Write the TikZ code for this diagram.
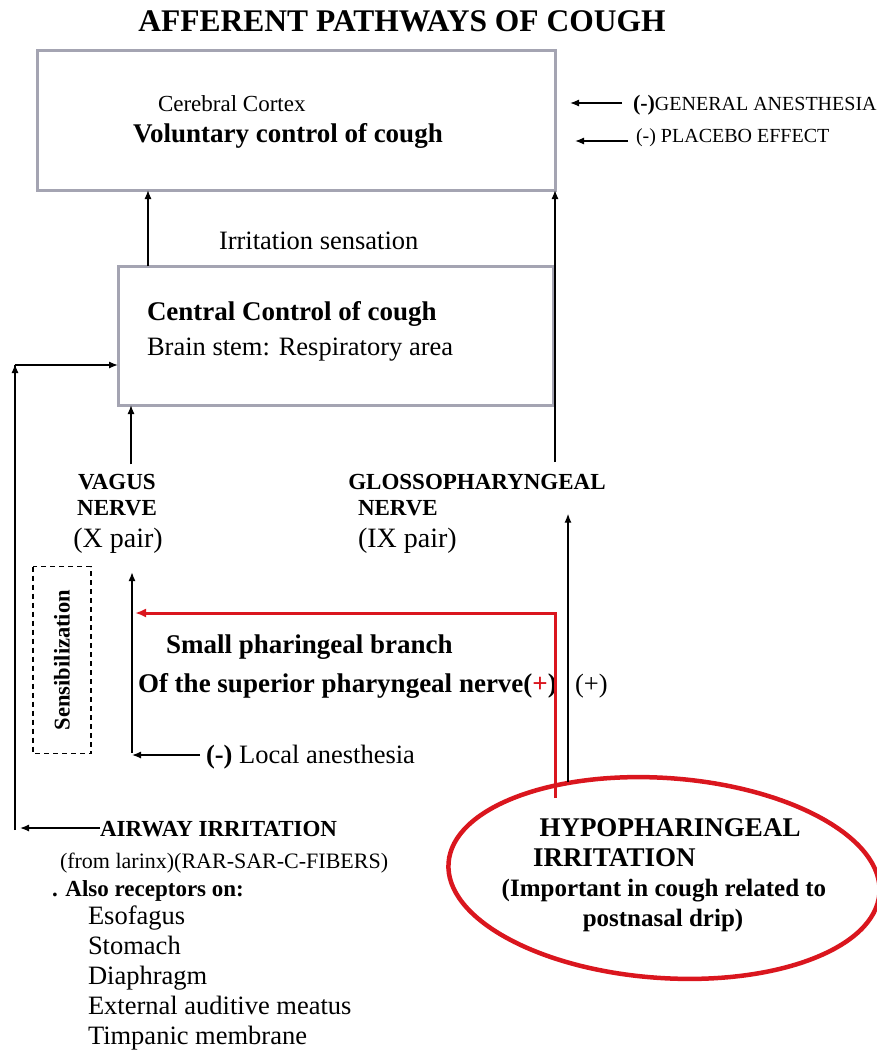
\documentclass[tikz,border=0pt]{standalone}
\usepackage{fontspec}
\setmainfont{Liberation Serif}
\usetikzlibrary{positioning,arrows.meta,shapes.geometric}
\definecolor{cougred}{RGB}{218,22,30}
\definecolor{framegray}{RGB}{164,164,178}
\tikzset{every node/.style={inner sep=0pt, outer sep=0pt, text height=.72em, text depth=.22em}}
\tikzset{frame/.style={draw=framegray, line width=3pt, fill=white, anchor=north west, text height=, text depth=}}
\tikzset{txt/.style={font=\fontsize{26.5}{30}\selectfont, anchor=west, yshift=-6pt}}
\tikzset{txtb/.style={font=\fontsize{27}{30}\selectfont\bfseries, anchor=west, yshift=-6pt}}
\tikzset{capb/.style={font=\fontsize{23}{26}\selectfont\bfseries, anchor=west, yshift=-6pt}}
\tikzset{sml/.style={font=\fontsize{20}{22}\selectfont, anchor=west, yshift=-5pt}}
\tikzset{arr/.style={line width=1.3pt, -{Latex[length=9pt,width=7pt]}}}
\tikzset{redarr/.style={draw=cougred, line width=3pt, -{Latex[length=11pt,width=9pt]}}}

\begin{document}
\begin{tikzpicture}[x=1pt, y=-1pt]
    \useasboundingbox (0,0) rectangle (877,1050);
    \node[font=\fontsize{31.5}{34}\selectfont\bfseries, yshift=-7pt] (title) at (402,22) {AFFERENT PATHWAYS OF COUGH};

    \node[frame, minimum width=518, minimum height=140] (ctx) at (37,50) {};
    \node[txt, font=\fontsize{23}{26}\selectfont] (cc) at (158,103) {Cerebral Cortex};
    \node[txtb] (vol) at (133,134) {Voluntary control of cough};
    \node[sml] (gen) at (633,103) {{\fontsize{22}{22}\selectfont\bfseries(-)}GENERAL ANESTHESIA};
    \node[sml] (plc) at (636,135) {(-) PLACEBO EFFECT};
    \draw[arr] ([xshift=-11pt,yshift=5pt]gen.west) -- ([xshift=15pt,yshift=5pt]gen.west -| ctx.east);
    \draw[arr] ([xshift=-8pt,yshift=-1pt]plc.west) -- ([xshift=20pt,yshift=-1pt]plc.west -| ctx.east);

    \node[txt] (irr) at (219,241) {Irritation sensation};
    \node[frame, minimum width=435, minimum height=139] (brn) at (118,266) {};
    \node[txtb] (cen) at (147,312) {Central Control of cough};
    \node[txt] (stem) at (147,347) {Brain stem: Respiratory area};
    \draw[arr] ([xshift=30pt]brn.north west) -- ([xshift=30pt]brn.north west |- ctx.south);

    \node[capb, anchor=center] (vag) at (117,481) {VAGUS};
    \node[capb, anchor=center] (vn) at (117,507) {NERVE};
    \node[txt, font=\fontsize{28}{30}\selectfont, anchor=center] (vx) at (118,539) {(X pair)};
    \draw[arr] ([xshift=14pt,yshift=18pt]vag.north) -- ([xshift=14pt]vag.north |- brn.south);

    \node[capb, anchor=center] (glo) at (477,481) {GLOSSOPHARYNGEAL};
    \node[capb] (gn) at (358,507) {NERVE};
    \node[txt, font=\fontsize{28}{30}\selectfont] (gx) at (358,539) {(IX pair)};
    \coordinate (gtop) at (555,462);
    \draw[arr] (gtop) -- (gtop |- ctx.south);

    \node[draw, dashed, dash pattern=on 5pt off 4pt, line width=1.3pt, rotate=90,
          minimum width=187, minimum height=58, font=\fontsize{22.5}{24}\selectfont\bfseries,
          text height=, text depth=] (sens) at (62,660) {Sensibilization};

    \coordinate (vbot) at (132,753);
    \coordinate (vtop) at (132,572);
    \draw[arr, line width=1.7pt] (vbot) -- (vtop);
    \node[txtb] (br1) at (166,645) {Small pharingeal branch};
    \node[txtb] (br2) at (138,684) {Of the superior pharyngeal nerve(\textcolor{cougred}{+})};
    \node[txt] (plus) at (575,684) {(+)};
    \node[txt] (loc) at (206,755) {\textbf{(-)} Local anesthesia};
    \draw[arr] ([xshift=-6pt,yshift=6pt]loc.west) -- ([yshift=6pt]loc.west -| vbot);

    \node[ellipse, draw=cougred, line width=4.5pt, minimum width=432, minimum height=200, rotate=-4,
          text height=, text depth=] (hyp) at (664,878) {};
    \node[txtb, anchor=center] (hy1) at (670,828) {HYPOPHARINGEAL};
    \node[txtb] (hy2) at (533,858) {IRRITATION};
    \node[txtb, font=\fontsize{25}{28}\selectfont\bfseries, anchor=center] (hy3) at (664,888) {(Important in cough related to};
    \node[txtb, font=\fontsize{25}{28}\selectfont\bfseries, anchor=center] (hy4) at (663,918) {postnasal drip)};
    \coordinate (rc) at (555,613);
    \coordinate (rb) at (555,798);
    \coordinate (gb) at (568,782);
    \draw[redarr] (rb) -- (rc) -- ([xshift=3pt]rc -| vbot);
    \draw[arr] (gb) -- ([yshift=4pt]gb |- gn.south);

    \node[capb] (air) at (100,828) {AIRWAY IRRITATION};
    \coordinate (lbot) at (15,830);
    \coordinate (ltop) at (15,365);
    \draw[line width=1.3pt] (lbot) -- (ltop);
    \draw[arr] (ltop) -- ++(0,-1);
    \draw[arr] (ltop) -- (ltop -| brn.west);
    \draw[arr] ([yshift=6pt]air.west) -- ([xshift=5pt,yshift=6pt]air.west -| lbot);
    \node[txt, font=\fontsize{22}{26}\selectfont] (lar) at (60,860) {(from larinx)(RAR-SAR-C-FIBERS)};
    \node[capb] (also) at (52,888) {. Also receptors on:};
    \foreach \t [count=\i] in {Esofagus, Stomach, Diaphragm, External auditive meatus, Timpanic membrane}
        \node[txt] (rec\i) at (88,886+30*\i) {\t};
\end{tikzpicture}
\end{document}
